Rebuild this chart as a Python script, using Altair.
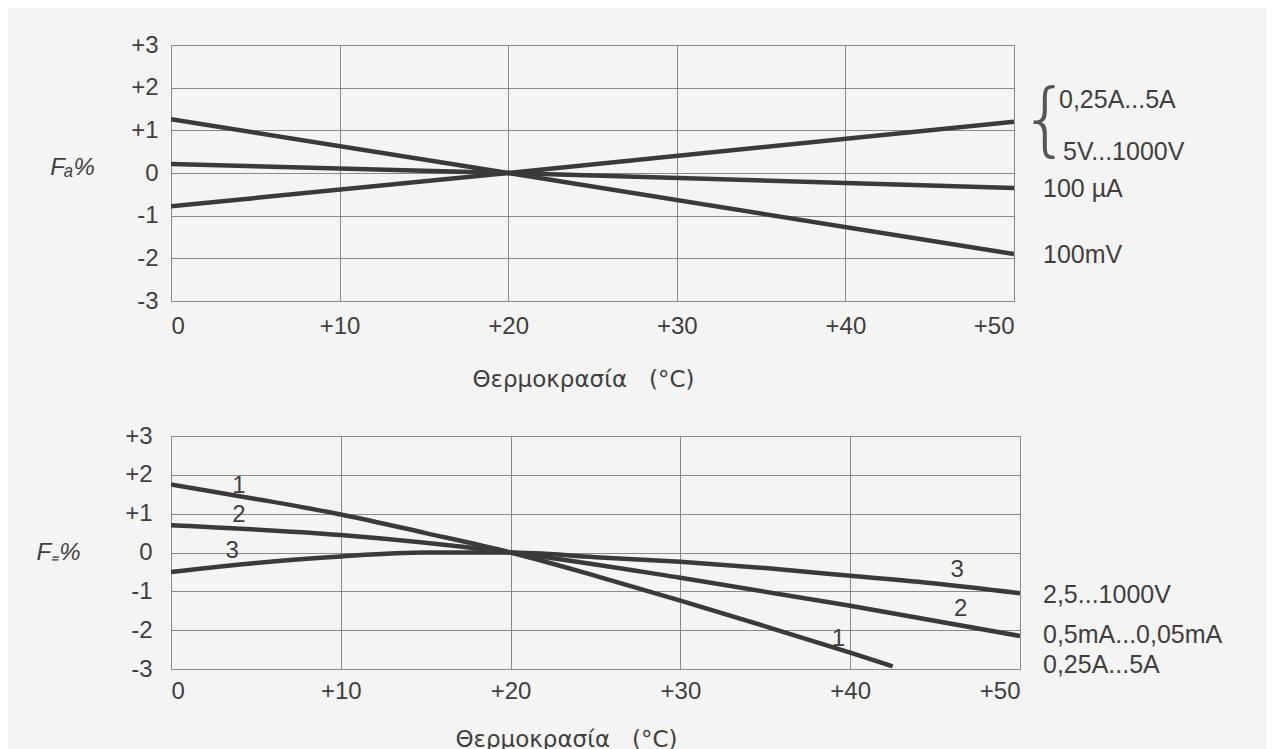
import altair as alt
import pandas as pd

# ---------------- data ----------------
x_ticks = [0, 10, 20, 30, 40, 50]
y_ticks = [-3, -2, -1, 0, 1, 2, 3]

# top panel (AC errors)
top_t = [0, 20, 50]
top_s1 = [-0.78, 0.0, 1.2]     # 0,25A...5A / 5V...1000V
top_s2 = [0.21, 0.0, -0.35]    # 100 µA
top_s3 = [1.26, 0.0, -1.9]     # 100mV
top_labels = ["0,25A...5A", "5V...1000V", "100 µA", "100mV"]
top_label_y = [1.71, 0.5, -0.37, -1.92]

# bottom panel (DC errors)
bot_t1 = [0, 5, 10, 15, 20, 25, 30, 35, 40, 42.5]
bot_c1 = [1.75, 1.38, 0.98, 0.5, 0.0, -0.6, -1.24, -1.9, -2.58, -2.93]
bot_t2 = [0, 10, 20, 30, 40, 50]
bot_c2 = [0.7, 0.45, 0.0, -0.65, -1.37, -2.15]
bot_t3 = [0, 5, 10, 15, 20, 25, 30, 35, 40, 45, 50]
bot_c3 = [-0.5, -0.27, -0.1, 0.0, 0.0, -0.12, -0.24, -0.4, -0.6, -0.8, -1.05]
bot_labels = ["2,5...1000V", "0,5mA...0,05mA", "0,25A...5A"]
bot_label_y = [-1.1, -2.13, -2.9]
curve_num = ["1", "2", "3", "3", "2", "1"]
curve_num_t = [4, 4, 3.6, 46.3, 46.5, 39.3]
curve_num_v = [1.7, 0.97, 0.05, -0.44, -1.46, -2.23]

# ---------------- style ----------------
FONT = "Liberation Sans"
TXT = "#3f3f3f"
LINE = "#3a3a3a"
GRID = "#8a8a8a"
BG = "#f4f4f2"


def x_axis(label_pad, title_x, title_y):
    return alt.Axis(
        values=x_ticks, tickCount=len(x_ticks), grid=True, gridColor=GRID, gridWidth=1,
        domain=False, ticks=False,
        labelFont=FONT, labelFontSize=24, labelColor=TXT, labelPadding=label_pad,
        labelOverlap=False,
        labelExpr="datum.value > 0 ? '+' + datum.value : '' + datum.value",
        title="Θερμοκρασία\u00a0\u00a0\u00a0(°C)", titleFont="DejaVu Sans", titleFontSize=23,
        titleFontWeight="normal", titleColor=TXT, titleX=title_x, titleY=title_y,
        titleBaseline="middle", titleAlign="center",
    )


def y_axis(label_pad, title, title_x, title_y):
    return alt.Axis(
        values=y_ticks, tickCount=len(y_ticks), grid=True, gridColor=GRID, gridWidth=1,
        domain=False, ticks=False,
        labelFont=FONT, labelFontSize=24, labelColor=TXT, labelPadding=label_pad,
        labelOverlap=False,
        labelExpr="datum.value > 0 ? '+' + datum.value : '' + datum.value",
        title=title, titleAngle=0, titleFont=FONT, titleFontSize=24, titleFontStyle="italic",
        titleFontWeight="normal", titleColor=TXT, titleX=title_x, titleY=title_y,
        titleAlign="center", titleBaseline="middle",
    )


xs = alt.Scale(domain=[0, 50], nice=False, zero=False)
ys = alt.Scale(domain=[-3, 3], nice=False)

# ---------------- top chart ----------------
TW, TH = 843, 256
top_df = pd.concat([
    pd.DataFrame({"t": top_t, "v": top_s1, "s": "a"}),
    pd.DataFrame({"t": top_t, "v": top_s2, "s": "b"}),
    pd.DataFrame({"t": top_t, "v": top_s3, "s": "c"}),
])
top_lines = alt.Chart(top_df).mark_line(color=LINE, strokeWidth=4.5, clip=True).encode(
    x=alt.X("t:Q", scale=xs, axis=x_axis(13, 412, 78)),
    y=alt.Y("v:Q", scale=ys, axis=y_axis(13, "Fₐ%", -99, 122)),
    detail="s:N",
)
top_layers = [top_lines]
for txt, yv, dx in zip(top_labels, top_label_y, [45, 49, 29, 29]):
    top_layers.append(
        alt.Chart(pd.DataFrame({"t": [50], "v": [yv], "txt": [txt]})).mark_text(
            align="left", baseline="middle", dx=dx, font=FONT, fontSize=25, color=TXT
        ).encode(x=alt.X("t:Q", scale=xs), y=alt.Y("v:Q", scale=ys), text="txt:N")
    )
top_layers.append(
    alt.Chart(pd.DataFrame({"t": [50], "v": [1.1], "txt": ["{"]})).mark_text(
        align="left", baseline="middle", dx=6, dy=-4, font="DejaVu Sans", fontWeight=200,
        fontSize=80, color="#555555"
    ).encode(x=alt.X("t:Q", scale=xs), y=alt.Y("v:Q", scale=ys), text="txt:N")
)
top = alt.layer(*top_layers).properties(width=TW, height=TH)

# ---------------- bottom chart ----------------
BW, BH = 849, 233
bot_df = pd.concat([
    pd.DataFrame({"t": bot_t1, "v": bot_c1, "s": "1"}),
    pd.DataFrame({"t": bot_t2, "v": bot_c2, "s": "2"}),
    pd.DataFrame({"t": bot_t3, "v": bot_c3, "s": "3"}),
])
bot_lines = alt.Chart(bot_df).mark_line(
    color=LINE, strokeWidth=4.5, interpolate="monotone", clip=True
).encode(
    x=alt.X("t:Q", scale=xs, axis=x_axis(10, 395, 70)),
    y=alt.Y("v:Q", scale=ys, axis=y_axis(19, "F₌%", -113, 116)),
    detail="s:N",
)
bot_layers = [bot_lines]
for txt, yv in zip(bot_labels, bot_label_y):
    bot_layers.append(
        alt.Chart(pd.DataFrame({"t": [50], "v": [yv], "txt": [txt]})).mark_text(
            align="left", baseline="middle", dx=23, font=FONT, fontSize=25, color=TXT
        ).encode(x=alt.X("t:Q", scale=xs), y=alt.Y("v:Q", scale=ys), text="txt:N")
    )
num_df = pd.DataFrame({"t": curve_num_t, "v": curve_num_v, "txt": curve_num})
bot_layers.append(
    alt.Chart(num_df).mark_text(
        align="center", baseline="middle", font=FONT, fontSize=24, color=TXT
    ).encode(x=alt.X("t:Q", scale=xs), y=alt.Y("v:Q", scale=ys), text="txt:N")
)
bottom = alt.layer(*bot_layers).properties(width=BW, height=BH)

chart = alt.vconcat(top, bottom, spacing=31).properties(
    padding={"left": 27, "top": 24, "right": 43, "bottom": 5},
    background=BG,
).configure_view(stroke=GRID, strokeWidth=1)

chart.save("out.html", embed_options={"renderer": "svg", "actions": False})
